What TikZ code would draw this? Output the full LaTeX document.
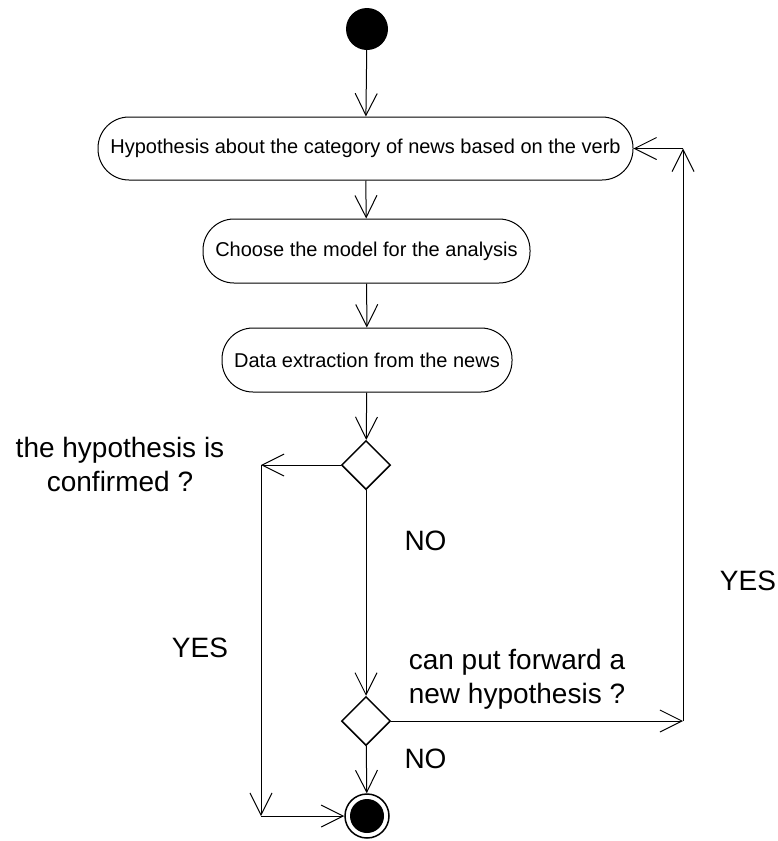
\documentclass[tikz,border=0pt]{standalone}
\usepackage{fontspec}
\setmainfont{Liberation Sans}
\usetikzlibrary{arrows.meta,shapes.geometric}

\tikzset{
  flow/.style={draw=black, line width=1pt,
    -{Straight Barb[length=22pt,width=22pt,line width=1pt]}},
  seg/.style={draw=black, line width=1pt},
  activity/.style={draw=black, line width=1pt, rounded corners=31pt,
    inner sep=0pt, font=\fontsize{20}{24}\selectfont},
  decision/.style={draw=black, line width=1.5pt, diamond, aspect=1,
    inner sep=0pt, minimum width=49pt, minimum height=49pt},
  biglabel/.style={font=\fontsize{28}{34}\selectfont, inner sep=0pt, anchor=base},
}

\begin{document}
\begin{tikzpicture}[x=1pt, y=-1pt]
  \useasboundingbox (0,0) rectangle (777,841);

  % start and end states
  \node[circle, fill=black, minimum size=42pt, inner sep=0pt] (start) at (367,29) {};
  \node[circle, draw=black, line width=1.5pt, minimum size=44pt, inner sep=0pt] (stop) at (367,816) {};
  \node[circle, fill=black, minimum size=34pt, inner sep=0pt] (stopdot) at (367,816) {};

  % activities
  \node[activity, minimum width=535pt, minimum height=63pt] (hyp) at (365.5,148.5)
    {Hypothesis about the category of news based on the verb};
  \node[activity, minimum width=327pt, minimum height=64pt] (model) at (366.5,251)
    {Choose the model for the analysis};
  \node[activity, minimum width=290pt, minimum height=64pt] (extract) at (367,360)
    {Data extraction from the news};

  % decisions
  \node[decision] (dconf) at (366,465) {};
  \node[decision] (dnew) at (366,721) {};

  % corner points of the loops
  \coordinate (lt) at (261,465);
  \coordinate (lb) at (261,816);
  \coordinate (rb) at (683,721);
  \coordinate (rt) at (683,148.5);

  % main flow
  \draw[flow] (start) -- (hyp);
  \draw[flow] (hyp) -- (model);
  \draw[flow] (model) -- (extract);
  \draw[flow] (extract) -- (dconf);
  \draw[flow] (dconf) -- (dnew);
  \draw[flow] (dnew) -- (stop);

  % confirmed branch
  \draw[flow] (dconf.west) -- (lt);
  \draw[flow] (lt) -- (lb);
  \draw[flow] (lb) -- (stop.west);

  % new hypothesis branch
  \draw[flow] (dnew.east) -- (rb);
  \draw[flow] (rb) -- (rt);
  \draw[flow] (rt) -- (hyp.east);

  % labels
  \node[biglabel] (q1a) at (120,457) {the hypothesis is};
  \node[biglabel] (q1b) at (120,491) {confirmed ?};
  \node[biglabel] (no1) at (425.5,550) {NO};
  \node[biglabel] (yes1) at (200,657) {YES};
  \node[biglabel] (q2a) at (517,669) {can put forward a};
  \node[biglabel] (q2b) at (517,703) {new hypothesis ?};
  \node[biglabel] (no2) at (425.5,768) {NO};
  \node[biglabel] (yes2) at (748,590) {YES};
\end{tikzpicture}
\end{document}
